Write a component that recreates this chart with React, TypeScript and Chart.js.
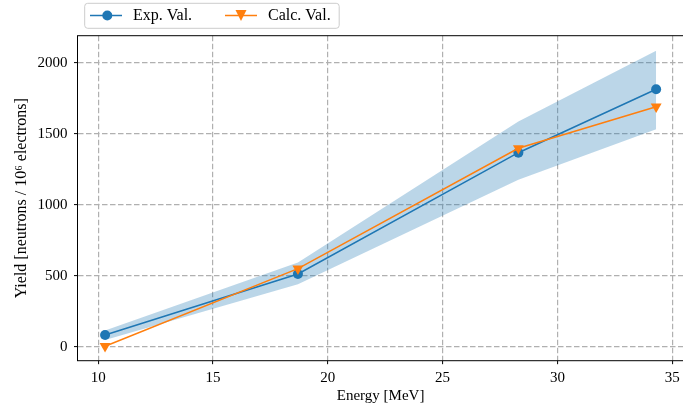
import React, { useEffect, useRef } from "react";
import { Chart, registerables } from "chart.js";
Chart.register(...registerables);

const energies = [10.3, 18.7, 28.3, 34.3];
const expVals = [82, 512, 1366, 1813];
const calcVals = [3, 549, 1397, 1690];
const bandLower = [47, 440, 1175, 1531];
const bandUpper = [113, 592, 1585, 2084];
const xTicks = [10, 15, 20, 25, 30, 35];
const yTicks = [0, 500, 1000, 1500, 2000];
const legendLabels = ["Exp. Val.", "Calc. Val."];
const xTitle = "Energy [MeV]";
const yTitle = "Yield [neutrons / 10\u2076 electrons]";

const C0 = "#1f77b4";
const C1 = "#ff7f0e";
const FONT = "'Liberation Serif', 'Times New Roman', serif";

const toPts = (ys: number[]) => energies.map((x, i) => ({ x, y: ys[i] }));

const framePlugin = {
  id: "frame",
  afterDraw(chart: any) {
    const { ctx, chartArea: a } = chart;
    ctx.save();
    ctx.strokeStyle = "#000";
    ctx.lineWidth = 1;
    ctx.setLineDash([]);
    ctx.strokeRect(a.left, a.top, a.right - a.left, a.bottom - a.top);
    ctx.restore();
  },
};

const legendPlugin = {
  id: "mplLegend",
  afterDraw(chart: any) {
    const ctx = chart.ctx as CanvasRenderingContext2D;
    ctx.save();
    ctx.setLineDash([]);
    const bx = 84.7, by = 3.3, bw = 254.5, bh = 25, r = 3;
    ctx.beginPath();
    ctx.moveTo(bx + r, by);
    ctx.lineTo(bx + bw - r, by);
    ctx.arcTo(bx + bw, by, bx + bw, by + r, r);
    ctx.lineTo(bx + bw, by + bh - r);
    ctx.arcTo(bx + bw, by + bh, bx + bw - r, by + bh, r);
    ctx.lineTo(bx + r, by + bh);
    ctx.arcTo(bx, by + bh, bx, by + bh - r, r);
    ctx.lineTo(bx, by + r);
    ctx.arcTo(bx, by, bx + r, by, r);
    ctx.closePath();
    ctx.fillStyle = "rgba(255,255,255,0.8)";
    ctx.fill();
    ctx.strokeStyle = "#cccccc";
    ctx.lineWidth = 1;
    ctx.stroke();

    const cy = 15.5;
    ctx.strokeStyle = C0;
    ctx.lineWidth = 1.5;
    ctx.beginPath();
    ctx.moveTo(90, cy);
    ctx.lineTo(122, cy);
    ctx.stroke();
    ctx.fillStyle = C0;
    ctx.beginPath();
    ctx.arc(107.3, cy, 5, 0, Math.PI * 2);
    ctx.fill();
    ctx.strokeStyle = C1;
    ctx.beginPath();
    ctx.moveTo(225, cy);
    ctx.lineTo(257, cy);
    ctx.stroke();
    ctx.fillStyle = C1;
    const tx = 241, s = 5.5;
    ctx.beginPath();
    ctx.moveTo(tx - s, cy - s);
    ctx.lineTo(tx + s, cy - s);
    ctx.lineTo(tx, cy + s);
    ctx.closePath();
    ctx.fill();

    ctx.fillStyle = "#000";
    ctx.font = `16px ${FONT}`;
    ctx.textBaseline = "middle";
    ctx.textAlign = "left";
    ctx.fillText(legendLabels[0], 133, cy + 0.5);
    ctx.fillText(legendLabels[1], 268, cy + 0.5);
    ctx.restore();
  },
};

export default function App() {
  const ref = useRef<HTMLCanvasElement>(null);
  useEffect(() => {
    if (!ref.current) return;
    const gridCommon = {
      color: "#b0b0b0",
      lineWidth: 1.2,
      drawTicks: true,
      tickLength: 3.5,
      tickColor: "#000",
      tickWidth: 1,
      tickBorderDash: [1, 0],
    };
    const borderCommon = { display: false, dash: [5.5, 2.5] };
    const chart = new Chart(ref.current, {
      type: "line",
      data: {
        datasets: [
          {
            label: legendLabels[1],
            data: toPts(calcVals),
            borderColor: C1,
            backgroundColor: C1,
            borderWidth: 1.5,
            pointStyle: "triangle",
            pointRotation: 180,
            pointRadius: 6.3,
            pointBorderWidth: 0,
            fill: false,
          },
          {
            label: legendLabels[0],
            data: toPts(expVals),
            borderColor: C0,
            backgroundColor: C0,
            borderWidth: 1.5,
            pointStyle: "circle",
            pointRadius: 5,
            pointBorderWidth: 0,
            fill: false,
          },
          {
            label: "lower",
            data: toPts(bandLower),
            borderWidth: 0,
            borderColor: "rgba(0,0,0,0)",
            pointRadius: 0,
            fill: false,
          },
          {
            label: "upper",
            data: toPts(bandUpper),
            borderWidth: 0,
            borderColor: "rgba(0,0,0,0)",
            backgroundColor: "rgba(31,119,180,0.3)",
            pointRadius: 0,
            fill: "-1",
          },
        ],
      },
      options: {
        animation: false,
        responsive: false,
        devicePixelRatio: 1,
        layout: { padding: { left: 0, top: 35.7, right: 5.8, bottom: 0 } },
        plugins: { legend: { display: false }, tooltip: { enabled: false } },
        elements: { line: { tension: 0 } },
        scales: {
          x: {
            type: "linear",
            min: 9.1,
            max: 35.5,
            afterBuildTicks: (s: any) => {
              s.ticks = xTicks.map((v) => ({ value: v }));
            },
            afterFit: (s: any) => {
              s.height = 45.3;
            },
            border: borderCommon,
            grid: gridCommon as any,
            ticks: {
              color: "#000",
              font: { family: FONT, size: 15 },
              padding: 5,
              maxRotation: 0,
              callback: (v: any) => String(v),
            },
            title: {
              display: true,
              text: xTitle,
              color: "#000",
              font: { family: FONT, size: 15 },
              padding: { top: 0, bottom: 0.5 },
            },
          },
          y: {
            type: "linear",
            min: -99,
            max: 2190,
            afterBuildTicks: (s: any) => {
              s.ticks = yTicks.map((v) => ({ value: v }));
            },
            afterFit: (s: any) => {
              s.width = 77.5;
            },
            border: borderCommon,
            grid: gridCommon as any,
            ticks: {
              color: "#000",
              font: { family: FONT, size: 15 },
              padding: 6.5,
              callback: (v: any) => String(v),
            },
            title: {
              display: true,
              text: yTitle,
              color: "#000",
              font: { family: FONT, size: 16 },
              padding: { top: 12, bottom: 0 },
            },
          },
        },
      },
      plugins: [framePlugin, legendPlugin],
    } as any);
    return () => chart.destroy();
  }, []);
  return (
    <div style={{ position: "fixed", left: 0, top: 0, width: 690, height: 406, background: "#fff" }}>
      <canvas ref={ref} width={690} height={406} style={{ display: "block" }} />
    </div>
  );
}
